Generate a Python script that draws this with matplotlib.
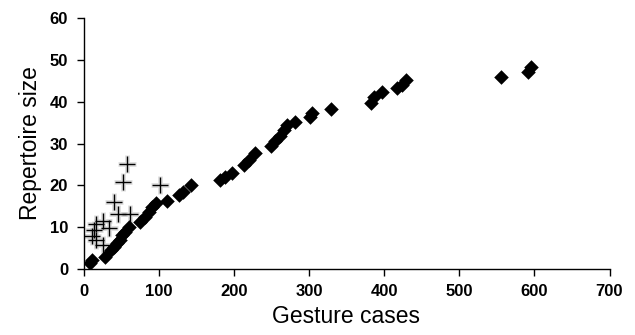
import numpy as np
import matplotlib
matplotlib.use("Agg")
import matplotlib.pyplot as plt

# diamonds: gesture cases vs repertoire size
cases_d = [9, 11, 29, 36, 40.5, 44.5, 49, 51.5, 55, 60, 75.5, 82, 87, 91, 96,
           111, 126.5, 133, 143, 182, 188.5, 197.5, 213, 220, 228.5, 249,
           255, 262, 266.5, 270.5, 282, 302, 304, 329, 382, 386, 397.5,
           417, 424, 429.5, 555, 592, 595]
size_d = [1.4, 2.1, 2.9, 4.5, 5.3, 6.1, 6.9, 8.1, 8.9, 10.1, 11.3, 12.5,
          13.7, 14.9, 15.7, 16.3, 17.7, 18.5, 20.1, 21.3, 22.1, 22.9, 24.9,
          26.0, 27.8, 29.3, 30.5, 31.7, 33.3, 34.4, 35.2, 36.4, 37.2, 38.2,
          39.6, 41.2, 42.4, 43.2, 44.0, 45.2, 46.0, 47.0, 48.3]

# crosses
cases_c = [58, 52.5, 102, 40, 46.5, 62, 25.5, 17, 34.5, 13.5, 11, 17, 26.5]
size_c = [25.1, 20.9, 20.1, 16.0, 13.1, 13.1, 11.5, 10.7, 9.7, 9.4, 7.8, 6.9, 5.7]

xticks = [0, 100, 200, 300, 400, 500, 600, 700]
yticks = [0, 10, 20, 30, 40, 50, 60]

plt.rcParams['font.family'] = ['Liberation Sans', 'DejaVu Sans']

fig = plt.figure(figsize=(6.35, 3.35), dpi=100)
ax = fig.add_axes([83.5/635, 1-269/335, (609.5-83.5)/635, (269-18)/335])

# soft grey halo behind crosses, then the crosses
ax.scatter(cases_c, size_c, marker='+', s=170, color='#c8c8c8', linewidths=3.5,
           alpha=0.6, zorder=2)
ax.scatter(cases_c, size_c, marker='+', s=130, color='black', linewidths=1.0, zorder=3)
ax.scatter(cases_d, size_d, marker='D', s=55, color='black', linewidths=0, zorder=4)

ax.set_xlim(0, 700)
ax.set_ylim(0, 60)
ax.set_xticks(xticks)
ax.set_yticks(yticks)
ax.set_xticklabels([str(t) for t in xticks], fontsize=12, fontweight='bold')
ax.set_yticklabels([str(t) for t in yticks], fontsize=12, fontweight='bold')
ax.tick_params(direction='out', length=5, width=1, pad=6)

for s in ['top', 'right']:
    ax.spines[s].set_visible(False)
for s in ['left', 'bottom']:
    ax.spines[s].set_linewidth(1)

ax.set_xlabel("Gesture cases", fontsize=16.5, labelpad=4)
ax.set_ylabel("Repertoire size", fontsize=16.5, labelpad=6)

fig.savefig("out.png", dpi=100)
